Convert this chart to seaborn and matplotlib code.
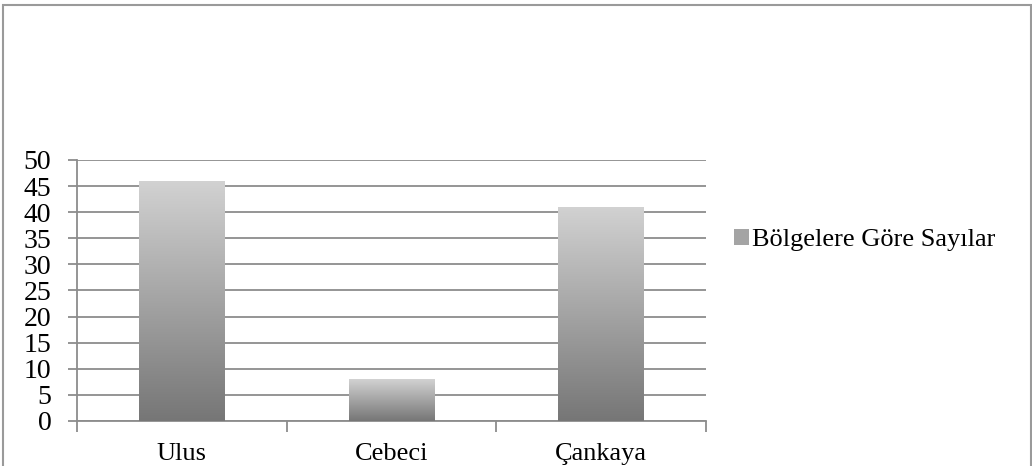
import numpy as np
import pandas as pd
import matplotlib
matplotlib.use("Agg")
import matplotlib.pyplot as plt
import seaborn as sns
from matplotlib.patches import Rectangle, Patch
from matplotlib.colors import LinearSegmentedColormap

categories = ["Ulus", "Cebeci", "Çankaya"]
values = [46, 8, 41]
series_name = "Bölgelere Göre Sayılar"
yticks = [0, 5, 10, 15, 20, 25, 30, 35, 40, 45, 50]

sns.set_theme(style="white")
plt.rcParams['font.family'] = ['Liberation Serif', 'DejaVu Serif']
plt.rcParams['text.color'] = 'black'
plt.rcParams['xtick.labelcolor'] = 'black'
plt.rcParams['ytick.labelcolor'] = 'black'

df = pd.DataFrame({"Bölge": categories, "Sayı": values})

fig = plt.figure(figsize=(10.32, 4.66), dpi=100)
ax = fig.add_axes([0.0746, 0.0966, 0.6095, 0.5601])

sns.barplot(data=df, x="Bölge", y="Sayı", ax=ax, color="#a0a0a0", width=0.41, zorder=3)

grey = "#8c8c8c"
ax.set_ylim(0, 50)
ax.set_xlim(-0.5, 2.5)
ax.set_yticks(yticks)
ax.yaxis.grid(True, color=grey, linewidth=1.3, zorder=0)
ax.set_axisbelow(True)
ax.set_xlabel("")
ax.set_ylabel("")

cmap = LinearSegmentedColormap.from_list("g", ["#767676", "#d2d2d2"])
grad = np.linspace(0, 1, 256).reshape(-1, 1)
for p in list(ax.patches):
    x0, y0 = p.get_x(), p.get_y()
    w, h = p.get_width(), p.get_height()
    im = ax.imshow(grad, cmap=cmap, origin="lower", aspect="auto",
                   extent=(x0, x0 + w, y0, y0 + h), zorder=4)
    im.set_clip_path(p)
    p.set_facecolor("none")
    p.set_edgecolor("none")
ax.set_xlim(-0.5, 2.5)
ax.set_ylim(0, 50)

for s in ["top", "right"]:
    ax.spines[s].set_visible(False)
for s in ["left", "bottom"]:
    ax.spines[s].set_color(grey)
    ax.spines[s].set_linewidth(1.3)

ax.set_xticks(range(len(categories)))
ax.set_xticklabels(categories, fontsize=19, color="black")
ax.tick_params(axis="x", length=0, pad=16)
ax.set_xticks([-0.5, 0.5, 1.5, 2.5], minor=True)
ax.tick_params(axis="x", which="minor", length=8, color=grey, width=1.3, direction="out")
ax.tick_params(axis="y", length=6.5, color=grey, width=1.3, direction="out", labelsize=20,
               pad=12, labelcolor="black")
ax.yaxis.set_tick_params(left=True)
ax.xaxis.set_tick_params(which="minor", bottom=True)

handle = Patch(facecolor="#a4a4a4", edgecolor="none")
fig.legend([handle], [series_name], loc="center left", bbox_to_anchor=(0.701, 0.485),
           frameon=False, fontsize=19, handlelength=0.55, handleheight=0.55,
           handletextpad=0.15, borderaxespad=0, labelcolor="black")

fig.patches.append(Rectangle((3 / 1032, -0.1), 1 - 4 / 1032, 1.1 - 4.5 / 466,
                             transform=fig.transFigure, fill=False,
                             edgecolor="#9a9a9a", linewidth=1.5))

fig.savefig("out.png", dpi=100)
